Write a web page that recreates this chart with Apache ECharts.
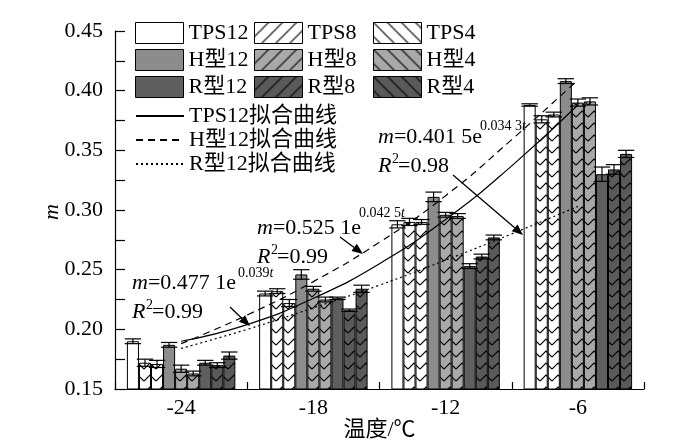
<!DOCTYPE html>
<html><head><meta charset="utf-8">
<script src="https://cdn.jsdelivr.net/npm/echarts@6/dist/echarts.min.js"></script>
<style>html,body{margin:0;padding:0;background:#fff}#c{width:700px;height:446px}</style>
</head><body><div id="c"></div>
<script>
// ---- data ----
const categories = ['-24', '-18', '-12', '-6'];
const seriesNames = ['TPS12', 'TPS8', 'TPS4', 'H型12', 'H型8', 'H型4', 'R型12', 'R型8', 'R型4'];
const tps12 = [0.190, 0.230, 0.288, 0.388];
const tps8  = [0.172, 0.232, 0.290, 0.376];
const tps4  = [0.171, 0.222, 0.290, 0.380];
const h12   = [0.187, 0.246, 0.311, 0.408];
const h8    = [0.167, 0.234, 0.296, 0.390];
const h4    = [0.163, 0.225, 0.295, 0.391];
const r12   = [0.172, 0.226, 0.253, 0.330];
const r8    = [0.170, 0.216, 0.261, 0.334];
const r4    = [0.178, 0.234, 0.277, 0.347];
const tps12Err = [0.002, 0.002, 0.003, 0.001];
const tps8Err  = [0.003, 0.002, 0.003, 0.003];
const tps4Err  = [0.003, 0.003, 0.002, 0.002];
const h12Err   = [0.002, 0.004, 0.004, 0.002];
const h8Err    = [0.003, 0.002, 0.002, 0.003];
const h4Err    = [0.002, 0.002, 0.002, 0.003];
const r12Err   = [0.002, 0.001, 0.002, 0.006];
const r8Err    = [0.002, 0.001, 0.002, 0.004];
const r4Err    = [0.003, 0.003, 0.002, 0.003];
const fitT      = [-24, -21, -18, -15, -12, -9, -6];
const fitTPS12  = [0.190, 0.204, 0.226, 0.255, 0.292, 0.337, 0.388];
const fitH12    = [0.188, 0.212, 0.240, 0.273, 0.312, 0.359, 0.409];
const fitR12    = [0.184, 0.200, 0.218, 0.237, 0.258, 0.280, 0.303];
const fitNames  = ['TPS12拟合曲线', 'H型12拟合曲线', 'R型12拟合曲线'];

const values = [tps12, tps8, tps4, h12, h8, h4, r12, r8, r4];
const errors = [tps12Err, tps8Err, tps4Err, h12Err, h8Err, h4Err, r12Err, r8Err, r4Err];

const F = "'Liberation Serif', 'Times New Roman', 'Noto Sans CJK SC', serif";
const GAP = 0.18;

function makePattern(bg, kind) {
  const c = document.createElement('canvas');
  const w = kind === 'chevron' ? 12 : 14;
  const h = kind === 'chevron' ? 12 : 14;
  c.width = w; c.height = h;
  const ctx = c.getContext('2d');
  ctx.fillStyle = bg; ctx.fillRect(0, 0, w, h);
  ctx.strokeStyle = '#000'; ctx.lineWidth = 1.2;
  ctx.beginPath();
  if (kind === 'chevron') {
    ctx.moveTo(0, 9); ctx.lineTo(6, 3); ctx.lineTo(12, 9);
  } else if (kind === 'fwd') {
    ctx.moveTo(0, h); ctx.lineTo(w, 0);
    ctx.moveTo(-2, 2); ctx.lineTo(2, -2);
    ctx.moveTo(w - 2, h + 2); ctx.lineTo(w + 2, h - 2);
  } else {
    ctx.moveTo(0, 0); ctx.lineTo(w, h);
    ctx.moveTo(w - 2, -2); ctx.lineTo(w + 2, 2);
    ctx.moveTo(-2, h - 2); ctx.lineTo(2, h + 2);
  }
  ctx.stroke();
  return { image: c, repeat: 'repeat' };
}

const WHITE = '#ffffff', HG = '#8c8c8c', HL = '#a9a9a9', RD = '#5f5f5f', RD2 = '#5a5a5a';
const barFills = [WHITE, makePattern(WHITE, 'chevron'), makePattern(WHITE, 'chevron'),
  HG, makePattern(HL, 'chevron'), makePattern(HL, 'chevron'),
  RD, makePattern(RD2, 'chevron'), makePattern(RD2, 'chevron')];
const legendFills = [WHITE, makePattern(WHITE, 'fwd'), makePattern(WHITE, 'bk'),
  HG, makePattern(HL, 'fwd'), makePattern(HL, 'bk'),
  RD, makePattern(RD2, 'fwd'), makePattern(RD2, 'bk')];

const series = [];
seriesNames.forEach((n, i) => {
  series.push({
    type: 'bar', name: n, data: values[i], xAxisIndex: 0, yAxisIndex: 0,
    barGap: '0%', barCategoryGap: (GAP * 100) + '%',
    itemStyle: { color: barFills[i], borderColor: '#000', borderWidth: 1 },
    z: 2, silent: true
  });
});

const errData = [];
for (let s = 0; s < 9; s++) for (let c = 0; c < 4; c++) errData.push([c, s, values[s][c], errors[s][c]]);
series.push({
  type: 'custom', name: 'err', xAxisIndex: 0, yAxisIndex: 0, data: errData,
  encode: { x: 0, y: 2 }, z: 4, silent: true,
  renderItem: function (params, api) {
    const c = api.value(0), s = api.value(1), v = api.value(2), e = api.value(3);
    const band = api.size([1, 0])[0];
    const bw = band * (1 - GAP) / 9;
    const cx = api.coord([c, v])[0] + (s - 4) * bw;
    const yt = api.coord([c, v + e])[1];
    const yb = api.coord([c, v - e])[1];
    const hw = bw * 0.68;
    const st = { stroke: '#000', lineWidth: 1.2 };
    return {
      type: 'group', children: [
        { type: 'line', shape: { x1: cx, y1: yt, x2: cx, y2: yb }, style: st },
        { type: 'line', shape: { x1: cx - hw, y1: yt, x2: cx + hw, y2: yt }, style: st },
        { type: 'line', shape: { x1: cx - hw, y1: yb, x2: cx + hw, y2: yb }, style: st }
      ]
    };
  }
});

const fits = [fitTPS12, fitH12, fitR12];
const fitTypes = ['solid', [7, 5], [2, 3]];
fits.forEach((f, k) => {
  series.push({
    type: 'line', name: fitNames[k], xAxisIndex: 1, yAxisIndex: 0,
    data: fitT.map((t, i) => [t, f[i]]), smooth: true, symbol: 'none', silent: true,
    lineStyle: { color: '#000', width: 1.2, type: fitTypes[k] },
    itemStyle: { color: '#000' }, z: 5
  });
});

function txt(x, y, text, size, align, rot) {
  return {
    type: 'text', x: x, y: y, z: 20, silent: true, rotation: rot || 0,
    style: {
      text: text, fontSize: size, fontFamily: F, fill: '#000',
      verticalAlign: 'middle', align: align || 'left',
      rich: { i: { fontStyle: 'italic', fontSize: size, fontFamily: F, fill: '#000' } }
    }
  };
}
function arrow(x1, y1, x2, y2) {
  const a = Math.atan2(y2 - y1, x2 - x1), L = 11, W = 4.5;
  const bx = x2 - L * Math.cos(a), by = y2 - L * Math.sin(a);
  return [
    { type: 'line', z: 20, silent: true, shape: { x1: x1, y1: y1, x2: bx, y2: by }, style: { stroke: '#000', lineWidth: 1.3 } },
    { type: 'polygon', z: 20, silent: true, shape: { points: [[x2, y2], [bx + W * Math.sin(a), by - W * Math.cos(a)], [bx - W * Math.sin(a), by + W * Math.cos(a)]] }, style: { fill: '#000' } }
  ];
}
function anno(x, y, coef, expo, r2, supX, supDy) {
  return [
    txt(x, y, '{i|m}=' + coef + 'e', 22),
    txt(supX, y - supDy, expo + '{i|t}', 14),
    txt(x, y + 29, '{i|R}', 22),
    txt(x + 14, y + 22, '2', 14),
    txt(x + 20, y + 29, '=' + r2, 22)
  ];
}

const graphics = [].concat(
  anno(132, 283, '0.477 1', '0.039', '0.99', 238, 10),
  anno(257, 228, '0.525 1', '0.042 5', '0.99', 359, 15),
  anno(378, 137, '0.401 5', '0.034 3', '0.98', 480, 11),
  arrow(230, 307, 250, 326),
  arrow(340, 237, 363, 254),
  arrow(453, 175, 523, 235),
  [txt(52, 212, '{i|m}', 22, 'center', Math.PI / 2)]
);

const legTxt = { color: '#000', fontSize: 22, fontFamily: F };
function barLegend(left, idx) {
  return {
    left: left, top: 22, orient: 'vertical', padding: 0, itemWidth: 48, itemHeight: 21, itemGap: 5,
    icon: 'rect', textStyle: legTxt, selectedMode: false,
    data: idx.map(i => ({ name: seriesNames[i], itemStyle: { color: legendFills[i], borderColor: '#000', borderWidth: 1 } }))
  };
}

const option = {
  animation: false,
  grid: { left: 115, right: 56, top: 31, bottom: 55, containLabel: false },
  legend: [
    barLegend(135, [0, 3, 6]),
    barLegend(254, [1, 4, 7]),
    barLegend(373, [2, 5, 8]),
    {
      left: 135, top: 105, orient: 'vertical', padding: 0, itemWidth: 48, itemHeight: 21, itemGap: 2,
      textStyle: legTxt, selectedMode: false, itemStyle: { opacity: 0 }, data: fitNames
    }
  ],
  xAxis: [
    {
      type: 'category', data: categories, position: 'bottom',
      axisLine: { lineStyle: { color: '#000', width: 1.2 } },
      axisTick: { show: false },
      axisLabel: { color: '#000', fontSize: 22, fontFamily: F, margin: 8 },
      name: '温度/℃', nameLocation: 'middle', nameGap: 30, nameMoveOverlap: false,
      nameTextStyle: { color: '#000', fontSize: 22, fontFamily: F }
    },
    {
      type: 'value', min: -27, max: -3, interval: 3, position: 'bottom',
      axisLine: { show: false },
      axisTick: { show: true, inside: true, length: 7, lineStyle: { color: '#000', width: 1.2 } },
      axisLabel: { show: false }, splitLine: { show: false }
    }
  ],
  yAxis: {
    type: 'value', min: 0.15, max: 0.45, interval: 0.05,
    axisLine: { show: true, lineStyle: { color: '#000', width: 1.2 } },
    axisTick: { show: true, inside: true, length: 10, lineStyle: { color: '#000', width: 1.2 } },
    minorTick: { show: true, splitNumber: 2, length: 10, lineStyle: { color: '#000', width: 1.2 } },
    axisLabel: { color: '#000', fontSize: 22, fontFamily: F, margin: 12, formatter: v => v.toFixed(2) },
    splitLine: { show: false }
  },
  series: series,
  graphic: graphics
};
const chart = echarts.init(document.getElementById('c'));
chart.setOption(option);
</script></body></html>
